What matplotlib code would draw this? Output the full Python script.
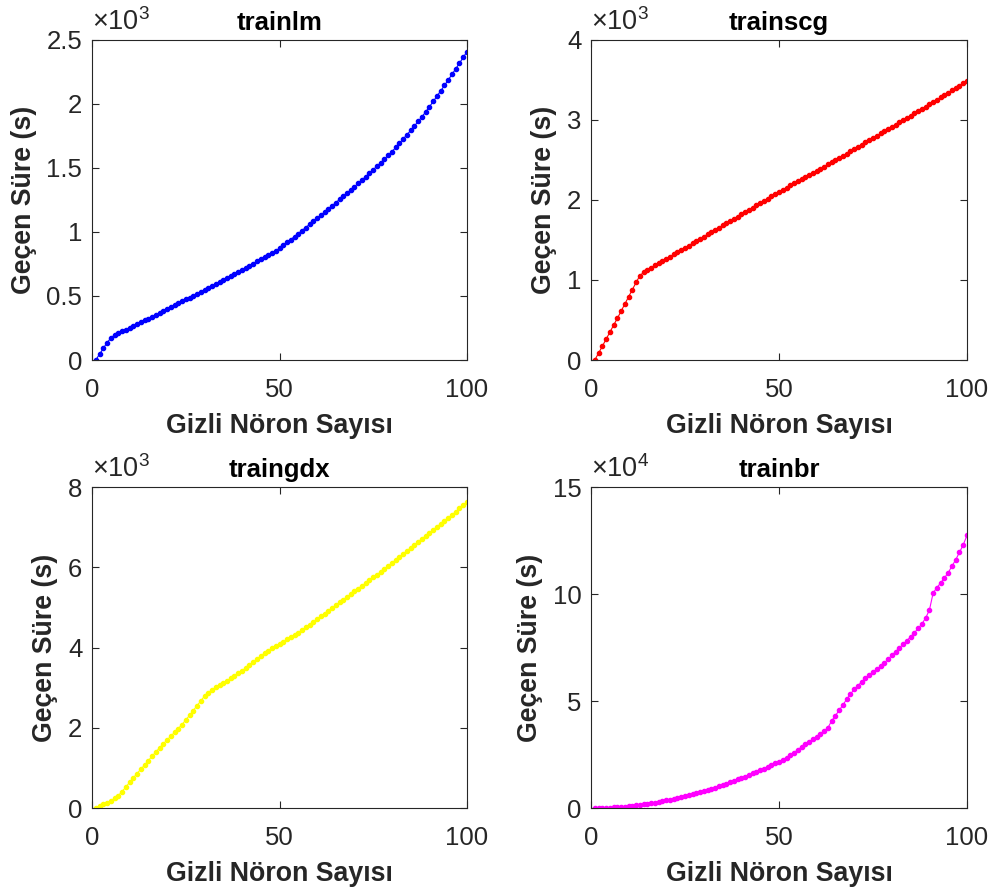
import matplotlib
matplotlib.use("Agg")
import matplotlib.pyplot as plt
from matplotlib.ticker import FuncFormatter

plt.rcParams['font.family'] = ['Liberation Sans', 'DejaVu Sans']
plt.rcParams['mathtext.fontset'] = 'custom'
plt.rcParams['mathtext.rm'] = 'Liberation Sans'
plt.rcParams['mathtext.it'] = 'Liberation Sans'

neurons = list(range(1, 101))

trainlm = [0, 45, 90, 135, 170, 195, 210, 224, 238, 252,
           267, 281, 295, 310, 324, 339, 353, 368, 383, 398,
           413, 428, 443, 458, 473, 488, 503, 518, 533, 548,
           563, 579, 594, 610, 625, 641, 656, 672, 687, 703,
           720, 736, 753, 770, 786, 803, 820, 837, 854, 872,
           895, 918, 941, 964, 988, 1011, 1035, 1059, 1083, 1107,
           1131, 1155, 1180, 1204, 1229, 1254, 1279, 1304, 1329, 1354,
           1380, 1406, 1433, 1460, 1487, 1514, 1542, 1570, 1599, 1628,
           1660, 1693, 1727, 1760, 1794, 1829, 1864, 1900, 1939, 1979,
           2020, 2061, 2103, 2145, 2188, 2231, 2275, 2319, 2364, 2409]

trainscg = [0, 85, 170, 260, 345, 435, 520, 610, 700, 790,
            880, 970, 1055, 1095, 1125, 1155, 1183, 1210, 1237, 1264,
            1292, 1320, 1348, 1375, 1403, 1431, 1459, 1487, 1515, 1543,
            1570, 1598, 1626, 1654, 1682, 1710, 1738, 1766, 1793, 1821,
            1849, 1877, 1905, 1933, 1961, 1988, 2016, 2044, 2072, 2100,
            2128, 2155, 2182, 2208, 2234, 2260, 2286, 2312, 2338, 2364,
            2391, 2418, 2445, 2472, 2499, 2526, 2553, 2580, 2607, 2635,
            2663, 2691, 2719, 2747, 2775, 2803, 2831, 2859, 2887, 2915,
            2943, 2971, 2999, 3027, 3055, 3083, 3111, 3139, 3167, 3195,
            3224, 3253, 3282, 3311, 3340, 3369, 3400, 3430, 3461, 3492]

traingdx = [0, 45, 90, 135, 180, 240, 310, 410, 520, 640,
            750, 860, 965, 1070, 1180, 1290, 1395, 1500, 1600, 1695,
            1790, 1885, 1980, 2080, 2195, 2310, 2430, 2550, 2670, 2790,
            2870, 2950, 3010, 3065, 3120, 3175, 3235, 3295, 3360, 3425,
            3490, 3560, 3635, 3710, 3790, 3860, 3920, 3980, 4035, 4090,
            4145, 4200, 4255, 4310, 4370, 4435, 4500, 4565, 4635, 4705,
            4775, 4845, 4915, 4985, 5055, 5125, 5195, 5260, 5330, 5400,
            5470, 5540, 5610, 5680, 5750, 5815, 5885, 5960, 6035, 6110,
            6185, 6260, 6335, 6410, 6485, 6560, 6635, 6710, 6785, 6860,
            6935, 7010, 7085, 7160, 7230, 7305, 7385, 7465, 7545, 7625]

trainbr = [10, 40, 80, 140, 220, 320, 430, 560, 710, 880,
           1060, 1260, 1480, 1720, 1980, 2250, 2540, 2850, 3180, 3520,
           3880, 4260, 4650, 5070, 5500, 5950, 6420, 6900, 7400, 7920,
           8460, 9010, 9580, 10170, 10770, 11390, 12020, 12670, 13340, 14020,
           14720, 15440, 16170, 16920, 17680, 18460, 19260, 20070, 20900, 21740,
           22650, 23600, 24700, 25900, 27200, 28500, 29800, 31000, 32200, 33400,
           34700, 36000, 37500, 40700, 43200, 45600, 48200, 50800, 53300, 55400,
           57200, 59000, 60600, 62000, 63400, 64800, 66200, 67800, 69500, 71300,
           73100, 74800, 76500, 78200, 80000, 81900, 83900, 86000, 88800, 92500,
           100500, 103000, 105200, 107500, 110000, 113000, 116000, 119500, 123000, 127400]

titles = ['trainlm', 'trainscg', 'traingdx', 'trainbr']
series = [trainlm, trainscg, traingdx, trainbr]
colors = ['#0000ff', '#ff0000', '#ffff00', '#ff00ff']
ylims = [2500, 4000, 8000, 150000]
yticks = [[0, 500, 1000, 1500, 2000, 2500],
          [0, 1000, 2000, 3000, 4000],
          [0, 2000, 4000, 6000, 8000],
          [0, 50000, 100000, 150000]]
exponents = [3, 3, 3, 4]
xticks = [0, 50, 100]
xlabel = 'Gizli Nöron Sayısı'
ylabel = 'Geçen Süre (s)'

positions = [[0.092, 0.5955, 0.375, 0.3596],
             [0.591, 0.5955, 0.376, 0.3596],
             [0.092, 0.0921, 0.375, 0.3607],
             [0.591, 0.0921, 0.376, 0.3607]]

fig = plt.figure(figsize=(10, 8.9), dpi=100)
dark = '#262626'
for i in range(4):
    ax = fig.add_axes(positions[i])
    ax.plot(neurons, series[i], '.-', color=colors[i], markersize=6, linewidth=0.8)
    ax.set_xlim(0, 100)
    ax.set_ylim(0, ylims[i])
    ax.set_xticks(xticks)
    ax.set_yticks(yticks[i])
    e = exponents[i]
    ax.yaxis.set_major_formatter(FuncFormatter(lambda v, p, e=e: '%g' % (v / 10 ** e)))
    ax.tick_params(direction='in', length=5, width=0.8, top=True, right=True,
                   labelsize=18.5, colors=dark)
    ax.tick_params(axis='x', pad=13)
    ax.tick_params(axis='y', pad=7)
    for sp in ax.spines.values():
        sp.set_color(dark)
        sp.set_linewidth(0.8)
    ax.set_title(titles[i], fontsize=18.5, fontweight='bold', pad=7)
    ax.set_xlabel(xlabel, fontsize=19.3, fontweight='bold', color=dark, labelpad=8)
    ax.set_ylabel(ylabel, fontsize=19.3, fontweight='bold', color=dark, labelpad=7)
    ax.text(0.0, 1.012, r'$\times10^{%d}$' % e, transform=ax.transAxes,
            fontsize=19.5, color=dark, ha='left', va='bottom')

fig.savefig('out.png', dpi=100, facecolor='white')
